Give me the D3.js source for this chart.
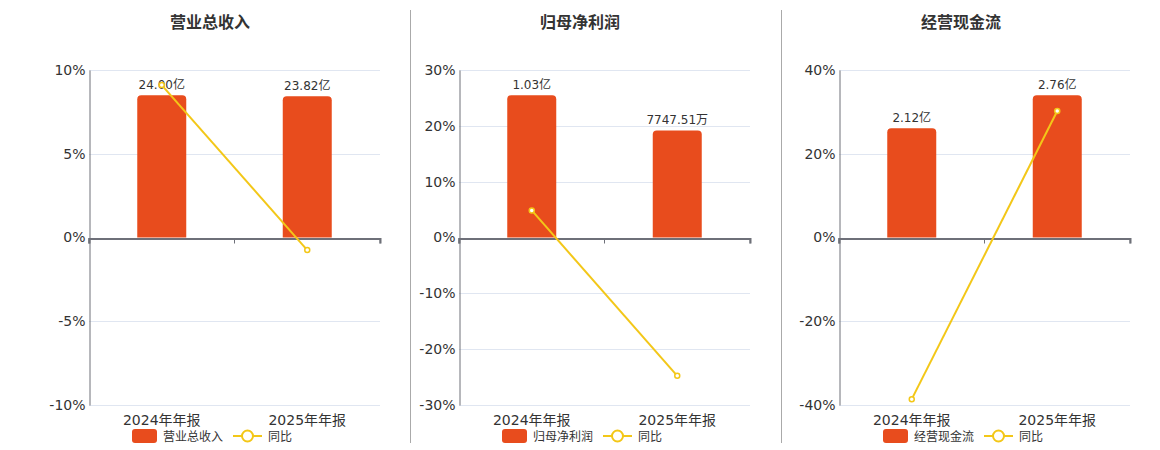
<!DOCTYPE html>
<html><head><meta charset="utf-8">
<script src="https://cdn.jsdelivr.net/npm/d3@7"></script>
<style>
body{margin:0;background:#fff;}
svg{display:block;font-family:"DejaVu Sans","Noto Sans CJK SC",sans-serif;}
</style></head><body>
<svg id="c" width="1160" height="450"></svg>
<script>
const categories = ["2024年年报", "2025年年报"];
const titles = ["营业总收入", "归母净利润", "经营现金流"];
const barValues1 = [24.00, 23.82];          // 亿
const barValues2 = [1.03, 0.774751];        // 亿
const barValues3 = [2.12, 2.76];            // 亿
const barLabels1 = ["24.00亿", "23.82亿"];
const barLabels2 = ["1.03亿", "7747.51万"];
const barLabels3 = ["2.12亿", "2.76亿"];
const yoy1 = [9.1, -0.75];
const yoy2 = [4.85, -24.78];
const yoy3 = [-38.6, 30.2];
const pctTicks1 = [-10, -5, 0, 5, 10];
const pctTicks2 = [-30, -20, -10, 0, 10, 20, 30];
const pctTicks3 = [-40, -20, 0, 20, 40];
const legendLine = "同比";

const panels = [
  {title: titles[0], bars: barValues1, labels: barLabels1, yoy: yoy1, ticks: pctTicks1},
  {title: titles[1], bars: barValues2, labels: barLabels2, yoy: yoy2, ticks: pctTicks2},
  {title: titles[2], bars: barValues3, labels: barLabels3, yoy: yoy3, ticks: pctTicks3}
];
const layout = [
  {left: 89, right: 380, cx: 210},
  {left: 459, right: 750, cx: 580},
  {left: 839, right: 1130, cx: 961}
];
const plotTop = 70, plotBottom = 405;
const barColor = "#E84C1D", lineColor = "#F3C718", textColor = "#333";
const svg = d3.select("#c");

// separators
[410.5, 781.5].forEach(x => svg.append("line").attr("x1", x).attr("x2", x)
  .attr("y1", 10).attr("y2", 443).attr("stroke", "#aaa").attr("stroke-width", 1));

panels.forEach((p, i) => {
  const L = layout[i];
  const g = svg.append("g");
  const ext = d3.max(p.ticks);
  const y = d3.scaleLinear().domain([-ext, ext]).range([plotBottom, plotTop]);
  const x = d3.scaleBand().domain(categories).range([L.left, L.right]);
  const zero = y(0);
  const yb = d3.scaleLinear().domain([0, d3.max(p.bars) / 0.85]).range([zero, plotTop]);

  // title
  g.append("text").attr("x", L.cx).attr("y", 28).attr("text-anchor", "middle")
    .attr("font-size", 16).attr("font-weight", "bold").attr("fill", textColor).text(p.title);

  // grid
  g.selectAll(".grid").data(p.ticks.filter(t => t !== 0)).join("line")
    .attr("x1", L.left).attr("x2", L.right)
    .attr("y1", d => Math.round(y(d)) + 0.5).attr("y2", d => Math.round(y(d)) + 0.5)
    .attr("stroke", "#e0e6f1").attr("stroke-width", 1);

  // y axis
  const ya = d3.axisLeft(y).tickValues(p.ticks).tickFormat(d => d + "%").tickSize(0).tickPadding(4);
  const yg = g.append("g").attr("transform", `translate(${L.left + 0.5},0)`).call(ya);
  yg.select(".domain").attr("stroke", "#6e7079");
  yg.selectAll("text").attr("font-size", 14).attr("fill", textColor)
    .attr("font-family", "DejaVu Sans, sans-serif");

  // bars
  const bw = 49;
  const r = 4;
  p.bars.forEach((v, j) => {
    const cx = x(categories[j]) + x.bandwidth() / 2;
    const x0 = cx - bw / 2, x1 = cx + bw / 2, yt = yb(v);
    const path = `M${x0},${zero}L${x0},${yt + r}Q${x0},${yt} ${x0 + r},${yt}L${x1 - r},${yt}Q${x1},${yt} ${x1},${yt + r}L${x1},${zero}Z`;
    g.append("path").attr("d", path).attr("fill", barColor);
    g.append("text").attr("x", cx).attr("y", yt - 6).attr("text-anchor", "middle")
      .attr("font-size", 12).attr("fill", textColor).text(p.labels[j]);
  });

  // x axis at zero
  const xa = d3.axisBottom(x).tickSize(5).tickFormat("");
  const xg = g.append("g").attr("transform", `translate(0,${Math.round(zero) + 0.5})`).call(xa);
  xg.select(".domain").attr("stroke", "#6e7079").attr("stroke-width", 2);
  xg.selectAll(".tick line").attr("stroke", "#6e7079");
  xg.selectAll(".tick").attr("transform", d => `translate(${x(d)},0)`);
  x.range().forEach(xx => g.append("line").attr("x1", xx).attr("x2", xx)
    .attr("y1", Math.round(zero)).attr("y2", Math.round(zero) + 5.5).attr("stroke", "#6e7079"));

  // category labels
  g.selectAll(".cat").data(categories).join("text")
    .attr("x", d => x(d) + x.bandwidth() / 2).attr("y", 425).attr("text-anchor", "middle")
    .attr("font-size", 14).attr("fill", textColor).text(d => d);

  // line
  const pts = p.yoy.map((v, j) => [x(categories[j]) + x.bandwidth() / 2, y(v)]);
  g.append("path").attr("d", d3.line()(pts)).attr("fill", "none")
    .attr("stroke", lineColor).attr("stroke-width", 2);
  g.selectAll(".pt").data(pts).join("circle")
    .attr("cx", d => d[0]).attr("cy", d => d[1]).attr("r", 2.5)
    .attr("fill", "#fff").attr("stroke", lineColor).attr("stroke-width", 1.5);

  // legend
  const lg = g.append("g");
  const lx = L.cx - 78;
  lg.append("rect").attr("x", lx).attr("y", 429).attr("width", 25).attr("height", 14)
    .attr("rx", 3).attr("fill", barColor);
  lg.append("text").attr("x", lx + 31).attr("y", 440.5).attr("font-size", 12)
    .attr("fill", textColor).text(p.title);
  const lx2 = lx + 101;
  lg.append("line").attr("x1", lx2).attr("x2", lx2 + 29).attr("y1", 436).attr("y2", 436)
    .attr("stroke", lineColor).attr("stroke-width", 2);
  lg.append("circle").attr("cx", lx2 + 14.5).attr("cy", 436).attr("r", 5.5)
    .attr("fill", "#fff").attr("stroke", lineColor).attr("stroke-width", 2);
  lg.append("text").attr("x", lx2 + 35).attr("y", 440.5).attr("font-size", 12)
    .attr("fill", textColor).text(legendLine);
});
</script>
</body></html>
